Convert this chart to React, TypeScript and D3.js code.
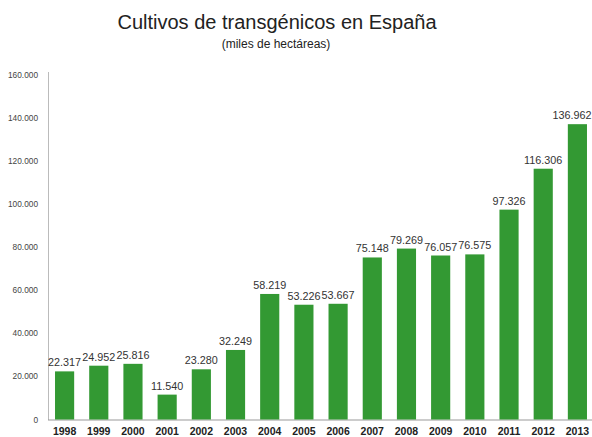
import React from "react";
import * as d3 from "d3";

const years = ["1998","1999","2000","2001","2002","2003","2004","2005","2006","2007","2008","2009","2010","2011","2012","2013"];
const values = [22317,24952,25816,11540,23280,32249,58219,53226,53667,75148,79269,76057,76575,97326,116306,136962];
const yTicks = [0,20000,40000,60000,80000,100000,120000,140000,160000];

const W = 592, H = 437;
const fmt = (v: number) => d3.format(",")(v).replace(/,/g, ".");

export default function App() {
  const x = d3.scaleBand().domain(years).range([47.5, 594.5]).paddingInner(0.44).paddingOuter(0.22);
  const y = d3.scaleLinear().domain([0, 160000]).range([419.5, 74.5]);
  const font = "'Liberation Sans', Arial, sans-serif";
  return (
    <svg width={W} height={H} style={{ position: "absolute", left: 0, top: 0, background: "#fff" }} fontFamily={font}>
      <text x={277} y={29} textAnchor="middle" fontSize={20} fill="#222">Cultivos de transgénicos en España</text>
      <text x={276} y={48} textAnchor="middle" fontSize={12} fill="#222">(miles de hectáreas)</text>
      {yTicks.map(t => (
        <text key={t} x={38} y={y(t) + 3} textAnchor="end" fontSize={8.3} fill="#444">{fmt(t)}</text>
      ))}
      <line x1={48.5} x2={48.5} y1={72} y2={420} stroke="#bbb" strokeWidth={1} />
      <line x1={48} x2={592} y1={420} y2={420} stroke="#999" strokeWidth={1} />
      {years.map((yr, i) => {
        const cx = x(yr)! + x.bandwidth() / 2;
        const last = i === years.length - 1;
        return (
          <g key={yr}>
            <rect x={x(yr)!} y={y(values[i])} width={x.bandwidth()} height={y(0) - y(values[i])} fill="#339933" />
            <text x={last ? 591.5 : cx} y={y(values[i]) - 5} textAnchor={last ? "end" : "middle"} fontSize={10.8} fill="#333">{fmt(values[i])}</text>
            <text x={cx} y={435} textAnchor="middle" fontSize={10.5} fontWeight="bold" fill="#222">{yr}</text>
          </g>
        );
      })}
    </svg>
  );
}
